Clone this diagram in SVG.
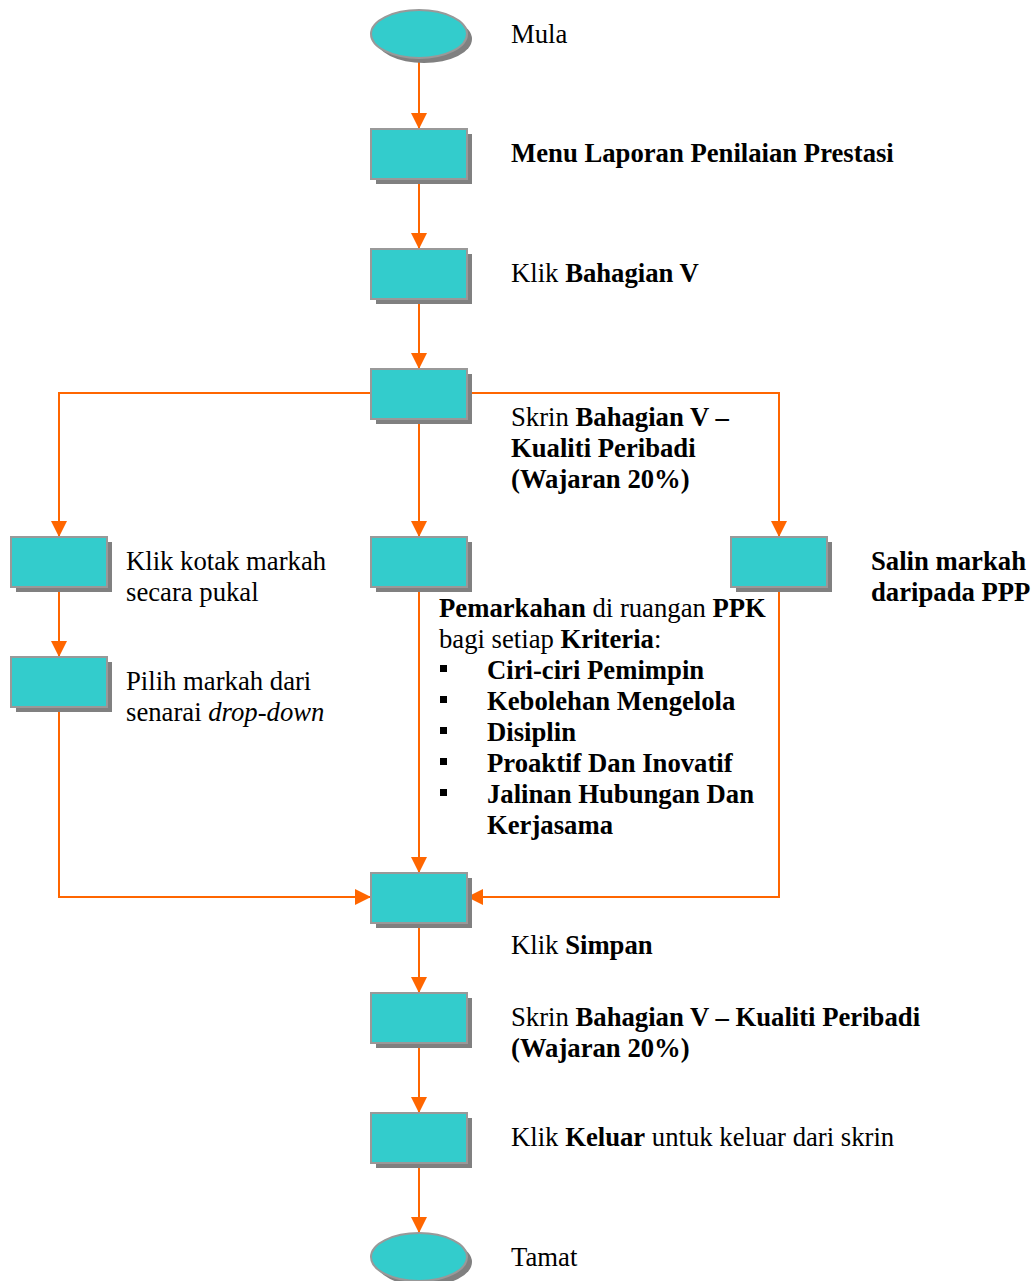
<svg xmlns="http://www.w3.org/2000/svg" width="1035" height="1281" viewBox="0 0 1035 1281">
<style>
.sh{fill:#808080}
.nd{fill:#33CCCC;stroke:#999999;stroke-width:2}
.ln{fill:none;stroke:#FF6600;stroke-width:2}
text{font-family:"Liberation Serif","Times New Roman",serif;font-size:26.7px;fill:#000}
.b{font-weight:bold}
.i{font-style:italic}
</style>
<defs>
<marker id="ah" markerUnits="userSpaceOnUse" markerWidth="16" markerHeight="16" viewBox="0 0 16 16" refX="16" refY="8" orient="auto">
<path d="M0,0 L16,8 L0,16 Z" fill="#FF6600"/>
</marker>
</defs>
<g id="connectors">
<line class="ln" x1="419" y1="58" x2="419" y2="129" marker-end="url(#ah)"/>
<line class="ln" x1="419" y1="179" x2="419" y2="249" marker-end="url(#ah)"/>
<line class="ln" x1="419" y1="299" x2="419" y2="369" marker-end="url(#ah)"/>
<polyline class="ln" points="371,393 59,393 59,537" marker-end="url(#ah)"/>
<line class="ln" x1="419" y1="419" x2="419" y2="537" marker-end="url(#ah)"/>
<polyline class="ln" points="467,393 779,393 779,537" marker-end="url(#ah)"/>
<line class="ln" x1="59" y1="587" x2="59" y2="657" marker-end="url(#ah)"/>
<polyline class="ln" points="59,707 59,897 371,897" marker-end="url(#ah)"/>
<line class="ln" x1="419" y1="587" x2="419" y2="873" marker-end="url(#ah)"/>
<polyline class="ln" points="779,587 779,897 467,897" marker-end="url(#ah)"/>
<line class="ln" x1="419" y1="923" x2="419" y2="993" marker-end="url(#ah)"/>
<line class="ln" x1="419" y1="1043" x2="419" y2="1113" marker-end="url(#ah)"/>
<line class="ln" x1="419" y1="1163" x2="419" y2="1233" marker-end="url(#ah)"/>
</g>
<g id="n-mula">
<ellipse class="sh" cx="424" cy="39" rx="48" ry="24"/>
<ellipse class="nd" cx="419" cy="34" rx="48" ry="24"/>
<text x="511" y="43">Mula</text>
</g>
<g id="n-menu">
<rect class="sh" x="376" y="134" width="96" height="50"/>
<rect class="nd" x="371" y="129" width="96" height="50"/>
<text x="511" y="162" class="b">Menu Laporan Penilaian Prestasi</text>
</g>
<g id="n-klik-bahagian">
<rect class="sh" x="376" y="254" width="96" height="50"/>
<rect class="nd" x="371" y="249" width="96" height="50"/>
<text x="511" y="282">Klik <tspan class="b">Bahagian V</tspan></text>
</g>
<g id="n-skrin1">
<rect class="sh" x="376" y="374" width="96" height="50"/>
<rect class="nd" x="371" y="369" width="96" height="50"/>
<text x="511" y="426">Skrin <tspan class="b">Bahagian V –</tspan></text>
<text x="511" y="457" class="b">Kualiti Peribadi</text>
<text x="511" y="488" class="b">(Wajaran 20%)</text>
</g>
<g id="n-kotak">
<rect class="sh" x="16" y="542" width="96" height="50"/>
<rect class="nd" x="11" y="537" width="96" height="50"/>
<text x="126" y="570">Klik kotak markah</text>
<text x="126" y="601">secara pukal</text>
</g>
<g id="n-pilih">
<rect class="sh" x="16" y="662" width="96" height="50"/>
<rect class="nd" x="11" y="657" width="96" height="50"/>
<text x="126" y="690">Pilih markah dari</text>
<text x="126" y="721">senarai <tspan class="i">drop-down</tspan></text>
</g>
<g id="n-pemarkahan">
<rect class="sh" x="376" y="542" width="96" height="50"/>
<rect class="nd" x="371" y="537" width="96" height="50"/>
<text x="439" y="617"><tspan class="b">Pemarkahan</tspan> di ruangan <tspan class="b">PPK</tspan></text>
<text x="439" y="648">bagi setiap <tspan class="b">Kriteria</tspan>:</text>
<rect x="440" y="665" width="7" height="7"/>
<rect x="440" y="696" width="7" height="7"/>
<rect x="440" y="727" width="7" height="7"/>
<rect x="440" y="758" width="7" height="7"/>
<rect x="440" y="789" width="7" height="7"/>
<text x="487" y="679" class="b">Ciri-ciri Pemimpin</text>
<text x="487" y="710" class="b">Kebolehan Mengelola</text>
<text x="487" y="741" class="b">Disiplin</text>
<text x="487" y="772" class="b">Proaktif Dan Inovatif</text>
<text x="487" y="803" class="b">Jalinan Hubungan Dan</text>
<text x="487" y="834" class="b">Kerjasama</text>
</g>
<g id="n-salin">
<rect class="sh" x="736" y="542" width="96" height="50"/>
<rect class="nd" x="731" y="537" width="96" height="50"/>
<text x="871" y="570" class="b">Salin markah</text>
<text x="871" y="601" class="b">daripada PPP</text>
</g>
<g id="n-simpan">
<rect class="sh" x="376" y="878" width="96" height="50"/>
<rect class="nd" x="371" y="873" width="96" height="50"/>
<text x="511" y="954">Klik <tspan class="b">Simpan</tspan></text>
</g>
<g id="n-skrin2">
<rect class="sh" x="376" y="998" width="96" height="50"/>
<rect class="nd" x="371" y="993" width="96" height="50"/>
<text x="511" y="1026">Skrin <tspan class="b">Bahagian V – Kualiti Peribadi</tspan></text>
<text x="511" y="1057" class="b">(Wajaran 20%)</text>
</g>
<g id="n-keluar">
<rect class="sh" x="376" y="1118" width="96" height="50"/>
<rect class="nd" x="371" y="1113" width="96" height="50"/>
<text x="511" y="1146">Klik <tspan class="b">Keluar</tspan> untuk keluar dari skrin</text>
</g>
<g id="n-tamat">
<ellipse class="sh" cx="424" cy="1262" rx="48" ry="24"/>
<ellipse class="nd" cx="419" cy="1257" rx="48" ry="24"/>
<text x="511" y="1266">Tamat</text>
</g>
</svg>
